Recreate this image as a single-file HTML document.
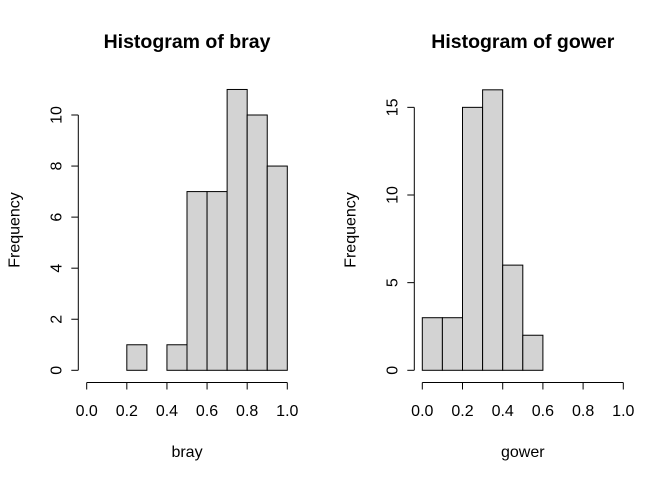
<!DOCTYPE html>
<html><head><meta charset="utf-8"><style>
body{margin:0;background:#fff}
svg text{font-family:"Liberation Sans",Arial,sans-serif;fill:#000}
</style></head><body>
<svg width="672" height="480" xmlns="http://www.w3.org/2000/svg" id="fig"></svg>
<script>
const brayBreaks=[0.2,0.3,0.4,0.5,0.6,0.7,0.8,0.9,1.0];
const brayCounts=[1,0,1,7,7,11,10,8];
const brayYTicks=[0,2,4,6,8,10];
const gowerBreaks=[0.0,0.1,0.2,0.3,0.4,0.5,0.6];
const gowerCounts=[3,3,15,16,6,2];
const gowerYTicks=[0,5,10,15];
const xTicks=[0.0,0.2,0.4,0.6,0.8,1.0];

const svg=document.getElementById('fig');
const NS='http://www.w3.org/2000/svg';
function mk(tag,attrs,parent){const e=document.createElementNS(NS,tag);for(const k in attrs)e.setAttribute(k,attrs[k]);(parent||svg).appendChild(e);return e;}

function panel(cfg){
  const g=mk('g',{});
  
  
  const xs=v=>cfg.x0+(cfg.x1-cfg.x0)*v;
  const ys=v=>370.3-cfg.pxPerUnit*v;
  for(let i=0;i<cfg.counts.length;i++){
    const a=xs(cfg.breaks[i]),b=xs(cfg.breaks[i+1]),y=ys(cfg.counts[i]);
    const r=mk('rect',{x:a,y:y,width:b-a,height:370.3-y,fill:'#d3d3d3',stroke:'#000','stroke-width':1},g);
    
    
  }
  const xa=mk('g',{},g);
  
  
  mk('line',{x1:xs(0),x2:xs(1),y1:382.5,y2:382.5,stroke:'#000'},xa);
  xTicks.forEach(t=>{
    mk('line',{x1:xs(t),x2:xs(t),y1:382.5,y2:389.5,stroke:'#000'},xa);
    const tx=mk('text',{x:xs(t),y:416,'font-size':16,'text-anchor':'middle'},xa);tx.textContent=t.toFixed(1);
  });
  const ya=mk('g',{},g);
  
  
  const top=cfg.yTicks[cfg.yTicks.length-1];
  mk('line',{x1:cfg.ax,x2:cfg.ax,y1:ys(0),y2:ys(top),stroke:'#000'},ya);
  cfg.yTicks.forEach(t=>{
    mk('line',{x1:cfg.ax-7,x2:cfg.ax,y1:ys(t),y2:ys(t),stroke:'#000'},ya);
    const tx=mk('text',{x:cfg.ax-17,y:ys(t),'font-size':16,'text-anchor':'middle',transform:`rotate(-90 ${cfg.ax-17} ${ys(t)})`},ya);tx.textContent=t;
  });
  const ti=mk('text',{x:(xs(0)+xs(1))/2,y:48,'font-size':19.5,'font-weight':'bold','text-anchor':'middle'},g);
  ti.textContent='Histogram of '+cfg.name;
  
  const xl=mk('text',{x:(xs(0)+xs(1))/2,y:457,'font-size':16,'text-anchor':'middle'},g);
  xl.textContent=cfg.name;
  
  const fx=cfg.ax-59,fy=230;
  const yl=mk('text',{x:fx,y:fy,'font-size':16,'text-anchor':'middle',transform:`rotate(-90 ${fx} ${fy})`},g);
  yl.textContent='Frequency';
  
}
panel({name:'bray',breaks:brayBreaks,counts:brayCounts,yTicks:brayYTicks,x0:86.7,x1:287.3,pxPerUnit:25.53,ax:78.3});
panel({name:'gower',breaks:gowerBreaks,counts:gowerCounts,yTicks:gowerYTicks,x0:422.3,x1:623.3,pxPerUnit:17.53,ax:414.3});
</script>
</body></html>
